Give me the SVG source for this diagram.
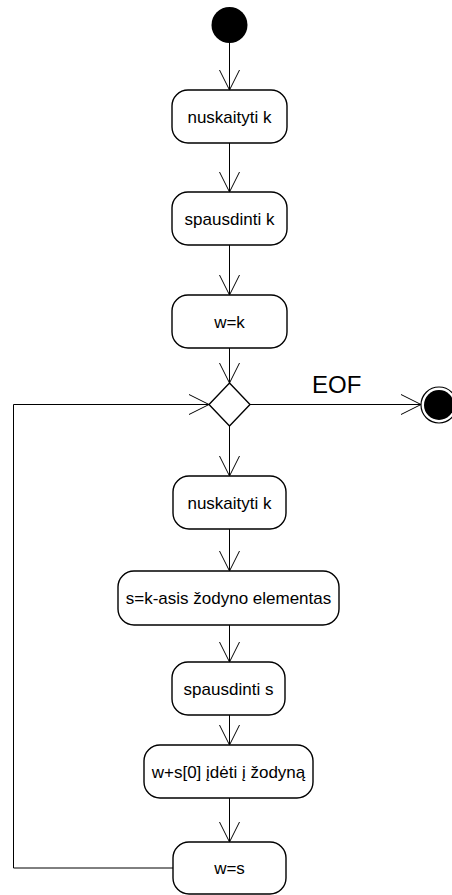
<svg xmlns="http://www.w3.org/2000/svg" width="452" height="895" viewBox="0 0 452 895">
  <style>
    .act { fill: #fff; stroke: #000; stroke-width: 1.4; }
    .lbl { font-family: "Liberation Sans", Arial, sans-serif; font-size: 17px; fill: #000; text-anchor: middle; }
    .edge { fill: none; stroke: #000; stroke-width: 1; }
    .guard { font-family: "Liberation Sans", Arial, sans-serif; font-size: 24px; fill: #000; }
  </style>
  <defs>
    <marker id="open" viewBox="-21 -11 22 22" refX="0" refY="0" markerWidth="22" markerHeight="22" markerUnits="userSpaceOnUse" orient="auto" overflow="visible">
      <path d="M-20,-10 L0,0 L-20,10" fill="none" stroke="#000" stroke-width="1"/>
    </marker>
  </defs>

  <!-- connectors -->
  <g id="edges">
    <line class="edge" x1="229.5" y1="43" x2="229.5" y2="90" marker-end="url(#open)"/>
    <line class="edge" x1="229.5" y1="143" x2="229.5" y2="192" marker-end="url(#open)"/>
    <line class="edge" x1="229.5" y1="245" x2="229.5" y2="295" marker-end="url(#open)"/>
    <line class="edge" x1="229.5" y1="348" x2="229.5" y2="383" marker-end="url(#open)"/>
    <line class="edge" x1="250" y1="404.5" x2="421" y2="404.5" marker-end="url(#open)"/>
    <text class="guard" x="312" y="393">EOF</text>
    <line class="edge" x1="229.5" y1="426" x2="229.5" y2="476" marker-end="url(#open)"/>
    <line class="edge" x1="229.5" y1="529" x2="229.5" y2="571" marker-end="url(#open)"/>
    <line class="edge" x1="229.5" y1="625" x2="229.5" y2="662" marker-end="url(#open)"/>
    <line class="edge" x1="229.5" y1="715" x2="229.5" y2="745" marker-end="url(#open)"/>
    <line class="edge" x1="229.5" y1="798" x2="229.5" y2="842" marker-end="url(#open)"/>
    <polyline class="edge" points="173,868 13.5,868 13.5,404.5 209,404.5" marker-end="url(#open)"/>
  </g>

  <!-- initial node -->
  <g id="start">
    <circle cx="229.5" cy="25" r="18" fill="#000"/>
  </g>

  <g id="read1">
    <rect class="act" x="172" y="90" width="115" height="53" rx="16"/>
    <text class="lbl" x="229.5" y="122.5">nuskaityti k</text>
  </g>

  <g id="print1">
    <rect class="act" x="172" y="192" width="115" height="53" rx="16"/>
    <text class="lbl" x="229.5" y="224.5">spausdinti k</text>
  </g>

  <g id="assignW">
    <rect class="act" x="172" y="295" width="115" height="53" rx="16"/>
    <text class="lbl" x="229.5" y="327.5">w=k</text>
  </g>

  <!-- decision -->
  <g id="decision">
    <polygon class="act" points="229.5,383 250,404.5 229.5,426 209,404.5"/>
  </g>

  <!-- final node -->
  <g id="end">
    <circle cx="439" cy="405" r="18" fill="#fff" stroke="#000" stroke-width="1.2"/>
    <circle cx="439" cy="405" r="15" fill="#000"/>
  </g>

  <g id="read2">
    <rect class="act" x="173" y="476" width="113" height="53" rx="16"/>
    <text class="lbl" x="229.5" y="508.5">nuskaityti k</text>
  </g>

  <g id="lookup">
    <rect class="act" x="118" y="571" width="221" height="54" rx="16"/>
    <text class="lbl" x="228.5" y="604">s=k-asis žodyno elementas</text>
  </g>

  <g id="print2">
    <rect class="act" x="172" y="662" width="113" height="53" rx="16"/>
    <text class="lbl" x="228.5" y="694.5">spausdinti s</text>
  </g>

  <g id="addEntry">
    <rect class="act" x="144" y="745" width="169" height="53" rx="16"/>
    <text class="lbl" x="228.5" y="777.5">w+s[0] įdėti į žodyną</text>
  </g>

  <g id="assignS">
    <rect class="act" x="173" y="842" width="113" height="52" rx="16"/>
    <text class="lbl" x="229.5" y="874">w=s</text>
  </g>
</svg>
